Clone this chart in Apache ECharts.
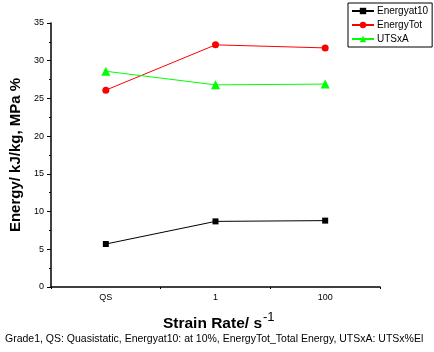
<!DOCTYPE html>
<html style="height: 100%">
<head>
  <meta charset="utf-8">
</head>
<body style="height: 100%; margin: 0; background: #fff">
  <div id="container" style="width: 434px; height: 352px"></div>
  <script type="text/javascript" src="https://cdn.jsdelivr.net/npm/echarts@6/dist/echarts.min.js"></script>
  <script type="text/javascript">
    var categories = ['QS', '1', '100'];
    var energyAt10 = [5.7, 8.7, 8.8];
    var energyTot = [26.1, 32.1, 31.7];
    var utsxA = [28.6, 26.8, 26.9];
    var yTicks = [0, 35, 5];

    var font = 'Arial, "Liberation Sans", sans-serif';
    var chart = echarts.init(document.getElementById('container'), null, { renderer: 'canvas' });

    var option = {
      animation: false,
      backgroundColor: '#fff',
      textStyle: { fontFamily: font },
      grid: { left: 49, top: 23, right: 54, bottom: 65 },
      legend: {
        orient: 'vertical',
        left: 348,
        top: 3,
        padding: [3, 4, 3, 3],
        itemGap: 4,
        itemWidth: 22,
        itemHeight: 8,
        borderColor: '#000',
        borderWidth: 1,
        textStyle: { fontFamily: font, fontSize: 10, color: '#000', padding: [0, 0, 0, -2] },
        data: ['Energyat10', 'EnergyTot', 'UTSxA']
      },
      xAxis: [
        {
          type: 'category',
          data: categories,
          boundaryGap: true,
          axisLine: { lineStyle: { color: '#000', width: 1.5 } },
          axisTick: { alignWithLabel: true, length: 4, lineStyle: { color: '#000' } },
          axisLabel: { color: '#000', fontSize: 9, margin: 6, fontFamily: font }
        },
        {
          type: 'category',
          data: categories,
          position: 'bottom',
          boundaryGap: true,
          axisLine: { show: false },
          axisTick: { show: true, length: 2, lineStyle: { color: '#000' } },
          axisLabel: { show: false }
        }
      ],
      yAxis: {
        type: 'value',
        min: yTicks[0],
        max: yTicks[1],
        interval: yTicks[2],
        axisLine: { show: true, lineStyle: { color: '#000', width: 1.5 } },
        axisTick: { show: true, length: 4, lineStyle: { color: '#000' } },
        minorTick: { show: true, splitNumber: 2, length: 2, lineStyle: { color: '#000' } },
        splitLine: { show: false },
        axisLabel: { color: '#000', fontSize: 9, margin: 7, fontFamily: font },
        name: 'Energy/ kJ/kg, MPa %',
        nameLocation: 'middle',
        nameGap: 28,
        nameTextStyle: { fontSize: 15, fontWeight: 'bold', color: '#000', fontFamily: font }
      },
      series: [
        {
          name: 'Energyat10',
          type: 'line',
          data: energyAt10,
          symbol: 'rect',
          symbolSize: 6,
          itemStyle: { color: '#000' },
          lineStyle: { color: '#000', width: 1 }
        },
        {
          name: 'EnergyTot',
          type: 'line',
          data: energyTot,
          symbol: 'circle',
          symbolSize: 7,
          itemStyle: { color: '#ff0000' },
          lineStyle: { color: '#ff0000', width: 1 }
        },
        {
          name: 'UTSxA',
          type: 'line',
          data: utsxA,
          symbol: 'triangle',
          symbolSize: 9,
          itemStyle: { color: '#00ff00' },
          lineStyle: { color: '#00ff00', width: 1 }
        }
      ],
      graphic: [
        {
          type: 'text',
          x: 262,
          y: 332,
          style: {
            text: 'Strain Rate/ s',
            fontSize: 15.5,
            fontWeight: 'bold',
            fontFamily: font,
            fill: '#000',
            align: 'right',
            verticalAlign: 'bottom'
          }
        },
        {
          type: 'text',
          x: 263,
          y: 324,
          style: {
            text: '-1',
            fontSize: 13,
            fontFamily: font,
            fill: '#000',
            align: 'left',
            verticalAlign: 'bottom'
          }
        },
        {
          type: 'text',
          left: 5,
          top: 334,
          style: {
            text: 'Grade1, QS: Quasistatic, Energyat10: at 10%, EnergyTot_Total Energy, UTSxA: UTSx%El',
            fontSize: 10.5,
            fontFamily: font,
            fill: '#000'
          }
        }
      ]
    };

    chart.setOption(option);
    window.addEventListener('resize', chart.resize);
  </script>
</body>
</html>
